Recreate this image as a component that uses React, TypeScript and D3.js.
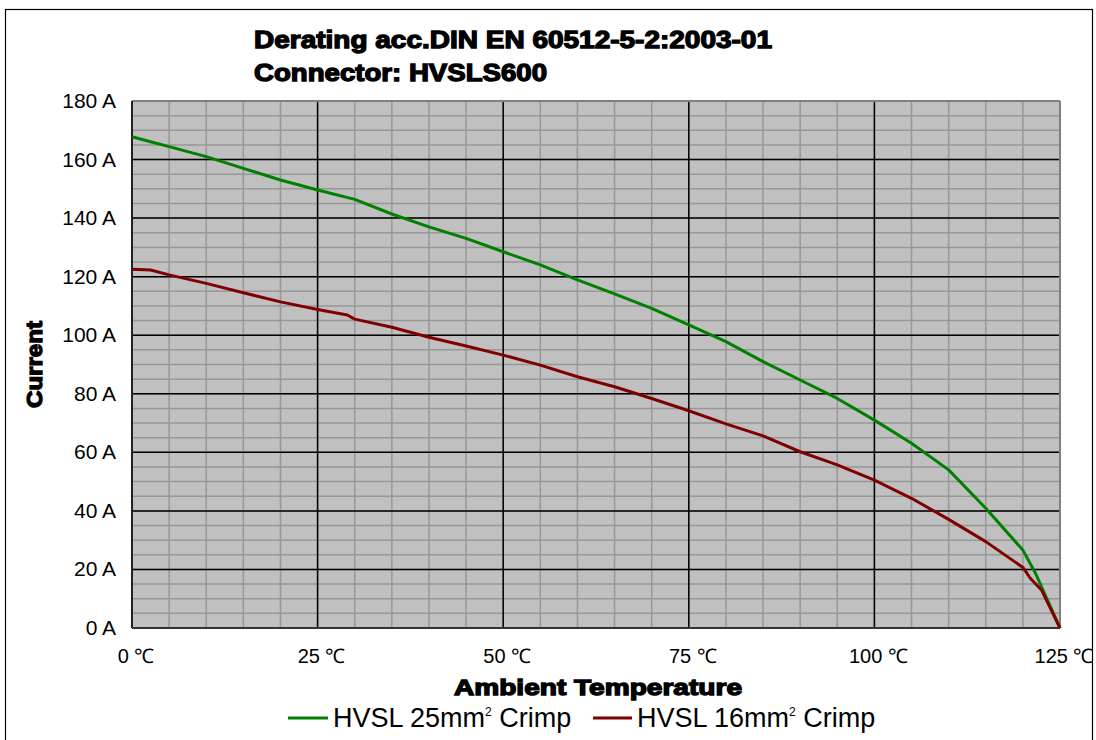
import React from "react";
import * as d3 from "d3";

const temps25 = [0, 2.5, 5, 10, 15, 20, 25, 30, 35, 40, 45, 50, 55, 60, 65, 70, 75, 80, 85, 90, 95, 100, 105, 110, 115, 120, 121.7, 125];
const amps25 = [167.8, 166.1, 164.4, 161, 157, 153, 149.6, 146.4, 141.4, 137, 133.1, 128.5, 124, 118.9, 114.1, 109.2, 103.5, 97.8, 91, 84.7, 78.4, 71, 63.1, 54, 40.9, 26.6, 18.7, 0];
const temps16 = [0, 2.5, 5, 10, 15, 20, 25, 29, 30, 35, 40, 45, 50, 55, 60, 65, 70, 75, 80, 85, 90, 95, 100, 105, 110, 115, 120, 121, 122.5, 125];
const amps16 = [122.5, 122.3, 120.6, 117.7, 114.5, 111.4, 108.8, 106.9, 105.5, 102.7, 99.3, 96.3, 93.2, 89.8, 85.8, 82.4, 78.4, 74.2, 69.7, 65.6, 60.2, 55.7, 50.5, 44.3, 37.1, 29.5, 20.7, 17, 13, 0];
const xTicks = [0, 25, 50, 75, 100, 125];
const yTicks = [0, 20, 40, 60, 80, 100, 120, 140, 160, 180];
const titleLines = ["Derating acc.DIN EN 60512-5-2:2003-01", "Connector: HVSLS600"];
const seriesNames = ["HVSL 25mm", "HVSL 16mm"];

export default function App() {
  const left = 132, right = 1060, top = 101, bottom = 628;
  const x = d3.scaleLinear().domain([0, 125]).range([left, right]);
  const y = d3.scaleLinear().domain([0, 180]).range([bottom, top]);
  const line = d3.line<[number, number]>().x(d => x(d[0])).y(d => y(d[1]));
  const d25 = line(temps25.map((t, i) => [t, amps25[i]] as [number, number])) || "";
  const d16 = line(temps16.map((t, i) => [t, amps16[i]] as [number, number])) || "";
  const minorX = d3.range(0, 126, 5);
  const minorY = d3.range(0, 181, 5);
  const font = "'Liberation Sans', Arial, sans-serif";
  const heavy = { fontFamily: font, fontWeight: 700, stroke: "#000", strokeWidth: 1.3 } as React.CSSProperties;
  const titleLens = [518, 293];

  return (
    <svg width={1096} height={740} style={{ position: "fixed", left: 0, top: 0, background: "#fff" }}>
      <rect x={5.5} y={9.5} width={1087} height={740} fill="#fff" stroke="#000" strokeWidth={1.2} />
      <rect x={left} y={top} width={right - left} height={bottom - top} fill="#c0c0c0" />
      {minorX.map(t => (
        <line key={"mx" + t} x1={x(t)} x2={x(t)} y1={top} y2={bottom} stroke="#979797" strokeWidth={1.5} />
      ))}
      {minorY.map(v => (
        <line key={"my" + v} x1={left} x2={right} y1={y(v)} y2={y(v)} stroke="#979797" strokeWidth={1.5} />
      ))}
      {xTicks.slice(1, -1).map(t => (
        <line key={"Mx" + t} x1={x(t)} x2={x(t)} y1={top} y2={bottom} stroke="#000" strokeWidth={1.5} />
      ))}
      {yTicks.slice(1, -1).map(v => (
        <line key={"My" + v} x1={left} x2={right} y1={y(v)} y2={y(v)} stroke="#000" strokeWidth={1.5} />
      ))}
      <line x1={left} x2={right} y1={top} y2={top} stroke="#808080" strokeWidth={2} />
      <line x1={right} x2={right} y1={top} y2={bottom} stroke="#808080" strokeWidth={2} />
      <line x1={left} x2={left} y1={top} y2={bottom} stroke="#222" strokeWidth={2} />
      <line x1={left} x2={right} y1={bottom} y2={bottom} stroke="#333" strokeWidth={2} />
      <path d={d25} fill="none" stroke="#008000" strokeWidth={3} strokeLinejoin="round" />
      <path d={d16} fill="none" stroke="#800000" strokeWidth={3} strokeLinejoin="round" />
      {yTicks.map(v => (
        <text key={"yl" + v} x={116} y={y(v) + 7} textAnchor="end" fontFamily={font} fontSize={21}>{v} A</text>
      ))}
      {xTicks.map(t => (
        <text key={"xl" + t} x={x(t) + 4} y={663} textAnchor="middle" fontFamily={font} fontSize={20}>{t} ℃</text>
      ))}
      {titleLines.map((s, i) => (
        <text key={"t" + i} x={254} y={48 + i * 33} fontSize={24} style={heavy} textLength={titleLens[i]} lengthAdjust="spacingAndGlyphs">{s}</text>
      ))}
      <text x={454} y={695} fontSize={22} style={heavy} textLength={288} lengthAdjust="spacingAndGlyphs">Ambient Temperature</text>
      <text transform={`translate(42,408) rotate(-90)`} fontSize={22} style={heavy} textLength={87} lengthAdjust="spacingAndGlyphs">Current</text>
      <line x1={288} x2={328} y1={718} y2={718} stroke="#008000" strokeWidth={3} />
      <text x={333} y={727} fontFamily={font} fontSize={27}>{seriesNames[0]}<tspan fontSize={12} dy={-11}>2</tspan><tspan dy={11}>  Crimp</tspan></text>
      <line x1={593} x2={632} y1={718} y2={718} stroke="#800000" strokeWidth={3} />
      <text x={637} y={727} fontFamily={font} fontSize={27}>{seriesNames[1]}<tspan fontSize={12} dy={-11}>2</tspan><tspan dy={11}>  Crimp</tspan></text>
    </svg>
  );
}
